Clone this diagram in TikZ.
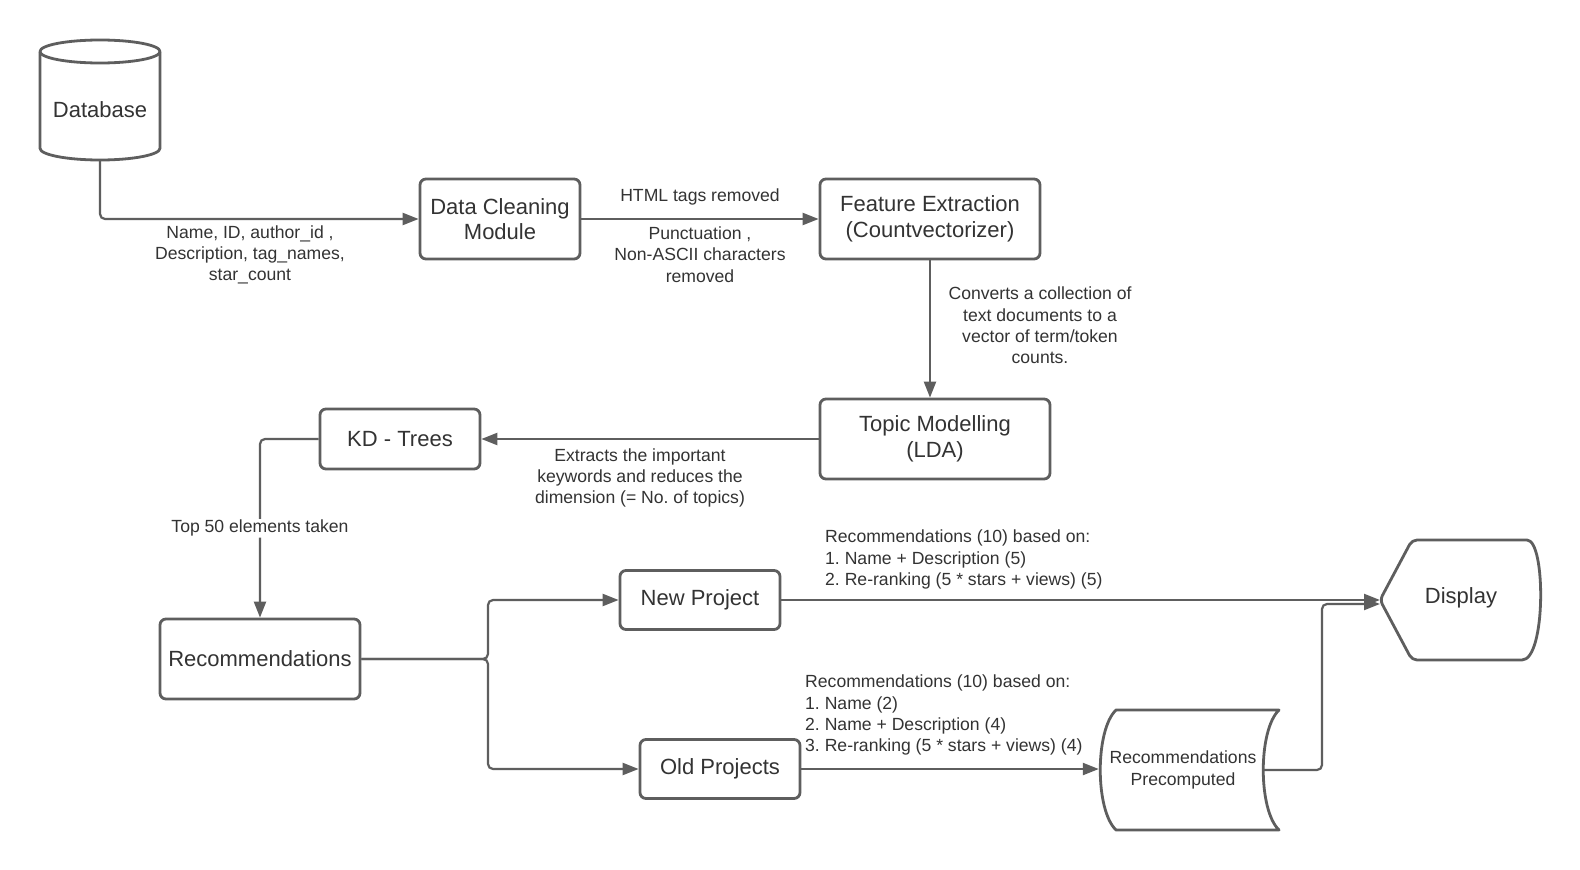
\documentclass[tikz,border=0pt]{standalone}
\usepackage{fontspec}
\setmainfont{Liberation Sans}
\usetikzlibrary{arrows.meta}
\definecolor{lc}{RGB}{94,94,94}
\definecolor{tc}{RGB}{51,51,51}
\newcommand\bigfnt{\fontsize{22}{25.7}\selectfont}
\newcommand\smallfnt{\fontsize{17.6}{21.3}\selectfont\frenchspacing}
\begin{document}
\frenchspacing
\begin{tikzpicture}[x=1pt,y=-1pt,
  box/.style={draw=lc, line width=2.8pt, rounded corners=6pt, fill=white, text=tc, font=\bigfnt, align=center, inner sep=0pt},
  txt/.style={text=tc, font=\bigfnt, align=center, inner sep=0pt},
  conn/.style={draw=lc, line width=2.2pt, rounded corners=5pt, -{Triangle[length=16pt,width=12pt]}},
  lbl/.style={text=tc, font=\smallfnt, align=center, inner sep=1pt},
  shp/.style={draw=lc, line width=2.8pt, line join=round}
]
\fill[white] (0,0) rectangle (1580,870);
\useasboundingbox (0,0) rectangle (1580,870);

% Database cylinder
\draw[shp] (40,51.5) -- (40,148.3) arc[start angle=180, end angle=360, x radius=60pt, y radius=11.7pt] -- (160,51.5);
\draw[shp] (100,51.5) ellipse [x radius=60pt, y radius=11.5pt];
\node[txt, minimum width=120pt, minimum height=100pt] (db) at (100,110) {Database};

% Stored data shape (Recommendations Precomputed)
\draw[shp] (1116,710) -- (1279,710) .. controls (1258,730) and (1258,810) .. (1279,830)
  -- (1116,830) .. controls (1095,810) and (1095,730) .. (1116,710) -- cycle;
\node[txt, font=\smallfnt, minimum width=168pt, minimum height=120pt] (rp) at (1183,770) {Recommendations\\Precomputed};
\coordinate (rpout) at (1262,770);

% Display shape
\draw[shp, rounded corners=5pt] (1380,600) -- (1412,540) -- (1522,540) [sharp corners] .. controls (1546,540) and (1546,660) .. (1522,660) [rounded corners=5pt] -- (1412,660) -- cycle;
\node[txt] (disp) at (1461,598) {Display};
\coordinate (dispw) at (1380,600);
\coordinate (dispw2) at (1380,604);
\coordinate (j2) at (1322,604);

% Boxes
\node[box, minimum width=160pt, minimum height=80pt] (dc) at (500,219) {Data Cleaning\\Module};
\node[box, minimum width=220pt, minimum height=80pt] (fe) at (930,219) {Feature Extraction\\(Countvectorizer)};
\node[box, minimum width=230pt, minimum height=80pt] (tm) at (935,439) {Topic Modelling\\(LDA)};
\node[box, minimum width=160pt, minimum height=60pt] (kd) at (400,439) {KD - Trees};
\node[box, minimum width=200pt, minimum height=80pt] (rec) at (260,659) {Recommendations};
\node[box, minimum width=160pt, minimum height=59pt] (np) at (700,600) {New Project};
\node[box, minimum width=160pt, minimum height=59pt] (op) at (720,769) {Old Projects};
\coordinate (br) at (488,659);

% Connectors
\draw[conn] (db.south) |- (dc.west);
\draw[conn] (dc.east) -- (fe.west);
\draw[conn] (fe.south) -- (fe.south |- tm.north);
\draw[conn] (tm.west) -- (kd.east);
\draw[conn] (kd.west) -| (rec.north) node[pos=0.75, lbl, fill=white] (l8) {Top 50 elements taken};
\draw[conn] (rec.east) -- (br) |- (np.west);
\draw[conn] (rec.east) -- (br) |- (op.west);
\draw[conn] (np.east) -- (np.east -| dispw);
\draw[conn] (op.east) -- (op.east -| rp.west);
\draw[conn] (rpout) -| (j2) -- (dispw2);

% Labels
\node[lbl] (l1) at (250,255) {Name, ID, author\_id ,\\Description, tag\_names,\\star\_count};
\node[lbl] (l2) at (700,197) {HTML tags removed};
\node[lbl] (l3) at (700,254.5) {Punctuation ,\\Non-ASCII characters\\removed};
\node[lbl] (l4) at (1040,325.5) {Converts a collection of\\text documents to a\\vector of term/token\\counts.};
\node[lbl] (l5) at (640,478) {Extracts the important\\keywords and reduces the\\dimension (= No. of topics)};
\node[lbl, anchor=west, align=left, inner sep=0pt] (l6) at (825,559.5) {Recommendations (10) based on:\\1. Name + Description (5)\\2. Re-ranking (5 * stars + views) (5)};
\node[lbl, anchor=west, align=left, inner sep=0pt] (l7) at (805,715.3) {Recommendations (10) based on:\\1. Name (2)\\2. Name + Description (4)\\3. Re-ranking (5 * stars + views) (4)};
\end{tikzpicture}
\end{document}
